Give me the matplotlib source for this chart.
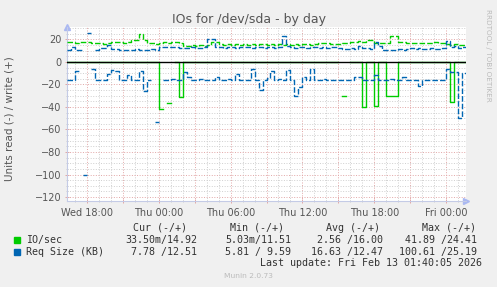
import matplotlib
matplotlib.use("Agg")
import matplotlib.pyplot as plt
import matplotlib.dates as mdates
import matplotlib.ticker as ticker
from matplotlib.patches import Rectangle
import numpy as np
import pandas as pd

nan = np.nan

# 20 minute samples from Wed 16:20 to Fri 01:40
START = "2026-02-11 16:20"
STEP = "20min"

# IO/sec, write (+)
io_write = [17.5, 17.5, 17, 18, 17.5, 17.5, 17, 16.5, 16.5, 16,
            17, 17.5, 18, 17.5, 17, 17.5, 19.5, 19.5, 24.5, 19.5,
            16.5, 16.5, 16, 17, 17.5, 17, 17.5, 18, 16.5, 14.5,
            14.5, 15, 14.5, 15, 14.5, 15, 17.5, 17.5, 15.5, 15,
            15.5, 15, 15.5, 15, 15.5, 15, 15.5, 15, 15.5, 16,
            15, 15.5, 15, 15.5, 15, 15.5, 15, 15.5, 15, 15.5,
            16, 15, 15.5, 16.5, 16.5, 16.5, 16, 15.5, 16, 16.5,
            17, 18, 18, 18.5, 18, 19.5, 19.5, 17, 16.5, 17,
            17, 23, 23, 18, 18, 17, 16.5, 17, 16.5, 17,
            16.5, 17, 17.5, 16.5, 17, 15.5, 15, 15.5, 15, 15]

# IO/sec, read (-), stored as magnitudes
io_read = [0.3, 0.3, 0.3, 0.3, 0.3, 0.3, 0.3, 0.3, 0.3, 0.3,
           0.3, 0.3, 0.3, 0.3, 0.3, 0.3, 0.3, 0.3, 0.3, 0.3,
           0.3, 0.3, 0.3, 42, nan, 36.5, nan, 0.3, 31, 0.3,
           0.3, 0.3, 0.3, 0.3, 0.3, 0.3, 0.3, 0.3, 0.3, 0.3,
           0.3, 0.3, 0.3, 0.3, 0.3, 0.3, 0.3, 0.3, 0.3, 0.3,
           0.3, 0.3, 0.3, 0.3, 0.3, 0.3, 0.3, 0.3, 0.3, 0.3,
           0.3, 0.3, 0.3, 0.3, 0.3, 0.3, 0.3, 0.3, nan, 30,
           nan, 0.3, 0.3, 0.3, 40, 0.3, 0.3, 39, 0.3, 0.3,
           30, 30, 30, 0.3, 0.3, 0.3, 0.3, 0.3, 0.3, 0.3,
           0.3, 0.3, 0.3, 0.3, 0.3, 0.3, 35.5, 0.3, 0.3, 0.3]

# Req Size (KB), write (+)
req_write = [10.5, 13, 11, 11, nan, 25.5, nan, 11, 12, 12.5,
             15, 11.5, 11.5, 11, 11, 11, 11, 11.5, 11, 11,
             11, 11.5, 11, 13.5, 13.5, 13, 13.5, 13.5, 12.5, 12.5,
             12.5, 13, 12.5, 12.5, 13, 20.5, 20, 13.5, 13, 12.5,
             13, 13.5, 12.5, 13, 13.5, 13, 12.5, 13.5, 13, 12.5,
             13, 13.5, 12.5, 13, 23, 14, 13, 12.5, 13.5, 13,
             12.5, 13, 13.5, 12.5, 13, 12.5, 13, 13.5, 12, 11.5,
             11.5, 12, 11.5, 14, 12, 12, 11.5, 18, 14, 11,
             10.5, 10.5, 11, 11.5, 11, 11.5, 12, 11.5, 12, 11.5,
             11.5, 12, 11.5, 11.5, 12, 19, 13, 14, 12.5, 13]

# Req Size (KB), read (-), stored as magnitudes
req_read = [16, 16, 8, nan, 100, nan, 6.5, 16, 16, 16,
            11, 7.5, 8, 16, 16, 12, 16, 16, 8, 25.5,
            16, nan, 53, nan, 16, 16, 15.5, 16, 16, 9,
            13, 16, 16, 15.5, 16, 16, 16, 13, 16, 16,
            15.5, 16, 10.5, 16, 16, 16, 6, 16, 25, 16,
            14, 8, 16, 15.5, 16, 7, 16, 30, 22.5, 13,
            16, 6, 16, 16, 15.5, 16, 16, 16, 16, 16,
            16, 16, 13, 13, 16, 16, 16, 12, 16, 16,
            16, 15.5, 16, 16, 13, 16, 16, 16, 21, 16,
            16, 16, 16, 16, 16, 6, 9, 9, 50, 10]

legend_names = ["IO/sec", "Req Size (KB)"]
legend_heads = ["Cur (-/+)", "Min (-/+)", "Avg (-/+)", "Max (-/+)"]
legend_vals = [["33.50m/14.92", "5.03m/11.51", "2.56 /16.00", "41.89 /24.41"],
               ["7.78 /12.51", "5.81 / 9.59", "16.63 /12.47", "100.61 /25.19"]]
series_colors = ["#00cc00", "#0066b3"]

W, H = 497, 287

def fx(x):
    return x / W

def fy(y):
    return 1 - y / H

times = pd.date_range(START, periods=len(io_write) + 1, freq=STEP)

def step_line(ax, vals, color, dashed=True, sign=1):
    v = sign * np.append(np.array(vals, dtype=float), vals[-1])
    kw = {'dashes': (4, 1.5)} if dashed else {}
    ax.step(times, v, where='post', color=color, lw=1.0, zorder=3, **kw)

fig = plt.figure(figsize=(W / 100, H / 100), dpi=100, facecolor='#f0f0f0')
ax = fig.add_axes([fx(67), fy(201), 399 / W, 174 / H], facecolor='white')

step_line(ax, io_write, series_colors[0])
step_line(ax, io_read, series_colors[0], dashed=False, sign=-1)
step_line(ax, req_write, series_colors[1])
step_line(ax, req_read, series_colors[1], sign=-1)
ax.axhline(0, color='black', lw=1, zorder=5)

ax.set_xlim(times[0], times[-1])
ax.set_ylim(-123.5, 31)

ax.xaxis.set_major_locator(mdates.HourLocator(byhour=range(0, 24, 3)))
ax.xaxis.set_minor_locator(mdates.HourLocator())

def hour_label(x, pos):
    d = mdates.num2date(x)
    return d.strftime('%a %H:%M') if d.hour % 6 == 0 else ''

ax.xaxis.set_major_formatter(ticker.FuncFormatter(hour_label))
ax.yaxis.set_major_locator(ticker.MultipleLocator(20))
ax.yaxis.set_minor_locator(ticker.MultipleLocator(5))

ax.grid(which='major', color='#e2a6a6', ls=':', lw=0.7)
ax.grid(which='minor', color='#cfcfcf', ls=':', lw=0.7)
ax.set_axisbelow(True)

ax.tick_params(which='major', direction='inout', length=3, width=0.7,
               color='#e2a6a6', labelsize=7, labelcolor='#555555')
ax.tick_params(axis='x', which='major', pad=3.5)
ax.tick_params(axis='y', which='major', pad=2.5)
ax.tick_params(which='minor', direction='inout', length=2, width=0.7,
               color='#cfcfcf')

for side in ['top', 'right']:
    ax.spines[side].set_visible(False)
for side in ['left', 'bottom']:
    ax.spines[side].set_color('#c4cbe6')
    ax.spines[side].set_linewidth(0.8)
ax.plot([1.0], [0], marker='>', ms=4, color='#aab8f2', transform=ax.transAxes,
        clip_on=False)
ax.plot([0], [1.0], marker='^', ms=4, color='#aab8f2', transform=ax.transAxes,
        clip_on=False)

# Titles
fig.text(fx(249), fy(19), "IOs for /dev/sda - by day", ha='center', va='center',
         fontsize=9, color='#555555')
fig.text(fx(10), fy(119), "Units read (-) / write (+)", rotation=90,
         ha='center', va='center', fontsize=7.5, color='#555555')
fig.text(fx(488), fy(55), "RRDTOOL / TOBI OETIKER", rotation=270,
         ha='center', va='center', fontsize=5.2, color='#bbbbbb')

# Legend
mono = 'DejaVu Sans Mono'
head_right = [187, 284, 380, 476]
val_right = [197, 291, 383, 477]
for x, t in zip(head_right, legend_heads):
    fig.text(fx(x), fy(228), t, ha='right', va='center', family=mono,
             fontsize=7.2, color='#333333')
for row, (name, color, vals) in enumerate(zip(legend_names, series_colors,
                                               legend_vals)):
    y = 240 + 12 * row
    fig.patches.append(Rectangle((fx(14), fy(y + 3)), 6 / W, 6 / H,
                                 transform=fig.transFigure, color=color))
    fig.text(fx(26), fy(y), name, ha='left', va='center', family=mono,
             fontsize=7.2, color='#333333')
    for x, t in zip(val_right, vals):
        fig.text(fx(x), fy(y), t, ha='right', va='center', family=mono,
                 fontsize=7.2, color='#333333')

fig.text(fx(482), fy(263), "Last update: Fri Feb 13 01:40:05 2026", ha='right',
         va='center', family=mono, fontsize=7.2, color='#333333')
fig.text(fx(248), fy(276), "Munin 2.0.73", ha='center', va='center',
         fontsize=5.4, color='#bbbbbb')

fig.savefig('out.png', dpi=100, facecolor=fig.get_facecolor())
